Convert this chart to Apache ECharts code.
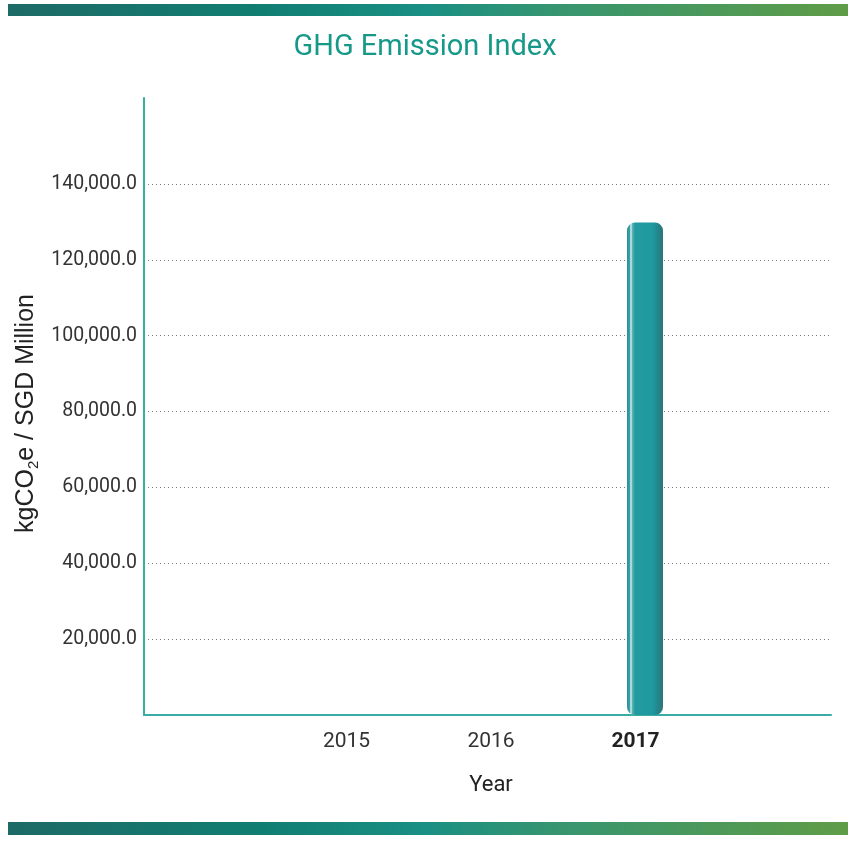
<!DOCTYPE html>
<html>
<head>
<meta charset="utf-8">
<title>GHG Emission Index</title>
<script src="https://cdn.jsdelivr.net/npm/echarts@6/dist/echarts.min.js"></script>
<style>
  html, body { margin: 0; padding: 0; background: #ffffff; }
  #chart { width: 850px; height: 842px; }
</style>
</head>
<body>
<div id="chart"></div>
<script>
// Reporting years and the emission index per year (kgCO2e / SGD Million)
const categories = ['2015', '2016', '2017'];
const emissionIndex = [null, null, 129800];
const highlightYear = '2017';

// Value axis ticks that carry a label and a dotted guide line
const yTickValues = [20000, 40000, 60000, 80000, 100000, 120000, 140000];
const yMax = 160000;
const yStep = 20000;

const chart = echarts.init(document.getElementById('chart'));

const textFont = "'Roboto', 'Liberation Sans', sans-serif";
const nameFont = "'Liberation Sans', Arial, sans-serif";
const axisTeal = '#3aaca2';

const brandGradient = new echarts.graphic.LinearGradient(0, 0, 1, 0, [
  { offset: 0, color: '#1d6a66' },
  { offset: 0.3, color: '#117e72' },
  { offset: 0.5, color: '#1a8f83' },
  { offset: 0.65, color: '#369570' },
  { offset: 1, color: '#5f9c47' }
]);

const barGradient = new echarts.graphic.LinearGradient(0, 0, 1, 0, [
  { offset: 0, color: '#2a8d93' },
  { offset: 0.07, color: '#3aa1a6' },
  { offset: 0.11, color: '#dcf0f1' },
  { offset: 0.15, color: '#5ab4b8' },
  { offset: 0.22, color: '#229aa0' },
  { offset: 0.7, color: '#1f9aa0' },
  { offset: 0.86, color: '#24868d' },
  { offset: 1, color: '#2b757b' }
]);

const fmtTick = v => yTickValues.indexOf(v) >= 0
  ? v.toLocaleString('en-US', { minimumFractionDigits: 1, maximumFractionDigits: 1 })
  : '';

const option = {
  backgroundColor: '#ffffff',
  animation: false,
  title: {
    text: 'GHG Emission Index',
    left: 'center',
    top: 28,
    padding: [5, 0, 5, 10],
    textStyle: { color: '#17998a', fontFamily: textFont, fontWeight: 'normal', fontSize: 29 }
  },
  graphic: [
    { type: 'rect', left: 8, top: 4, shape: { width: 840, height: 12 }, style: { fill: brandGradient } },
    { type: 'rect', left: 8, top: 822, shape: { width: 840, height: 13 }, style: { fill: brandGradient } }
  ],
  grid: [
    // frame: axis lines
    { left: 144, right: 19, top: 98, bottom: 127 },
    // value labels and dotted guides
    { left: 144, right: 19, top: 108, bottom: 127 },
    // year labels
    { left: 274.25, right: 142.25, top: 108, bottom: 127 },
    // bars
    { left: 283.75, right: 132.75, top: 108, bottom: 127 }
  ],
  xAxis: [
    {
      gridIndex: 0, type: 'value', min: 0, max: 1,
      axisLine: { show: true, lineStyle: { color: axisTeal, width: 2 } },
      axisTick: { show: false }, axisLabel: { show: false }, splitLine: { show: false }
    },
    { gridIndex: 1, type: 'category', data: categories, show: false },
    {
      gridIndex: 2, type: 'category', data: categories,
      axisLine: { show: false }, axisTick: { show: false },
      axisLabel: {
        margin: 16,
        formatter: v => v === highlightYear ? '{b|' + v + '}' : '{n|' + v + '}',
        rich: {
          n: { fontFamily: textFont, fontSize: 21, color: '#333333' },
          b: { fontFamily: textFont, fontSize: 21, color: '#222222', fontWeight: 'bold' }
        }
      },
      name: 'Year',
      nameLocation: 'middle',
      nameGap: 59,
      nameTextStyle: { fontFamily: textFont, fontSize: 22, color: '#222222' }
    },
    { gridIndex: 3, type: 'category', data: categories, show: false }
  ],
  yAxis: [
    {
      gridIndex: 0, type: 'value', min: 0, max: 1,
      axisLine: { show: true, lineStyle: { color: axisTeal, width: 2 } },
      axisTick: { show: false }, axisLabel: { show: false }, splitLine: { show: false },
      name: '{a|kgCO}{s|2}{a|e / SGD Million}',
      nameLocation: 'middle',
      nameRotate: 90,
      nameGap: 103,
      nameTextStyle: {
        padding: [0, 14, 0, 0],
        rich: {
          a: { fontFamily: nameFont, fontSize: 25, color: '#222222' },
          s: { fontFamily: nameFont, fontSize: 15, color: '#222222', verticalAlign: 'bottom', padding: [15, 0, 0, 0] }
        }
      }
    },
    {
      gridIndex: 1, type: 'value', min: 0, max: yMax, interval: yStep,
      axisLine: { show: false }, axisTick: { show: false },
      axisLabel: {
        margin: 7, formatter: fmtTick,
        fontFamily: textFont, fontSize: 19.5, color: '#333333'
      },
      splitLine: {
        show: true, showMinLine: false, showMaxLine: false,
        lineStyle: { color: '#7a7a7a', type: [1, 3], width: 1 }
      }
    },
    { gridIndex: 2, type: 'value', min: 0, max: yMax, interval: yStep, show: false, splitLine: { show: false } },
    { gridIndex: 3, type: 'value', min: 0, max: yMax, interval: yStep, show: false, splitLine: { show: false } }
  ],
  series: [
    {
      name: 'GHG Emission Index',
      type: 'bar',
      xAxisIndex: 3,
      yAxisIndex: 3,
      data: emissionIndex,
      barWidth: 36,
      itemStyle: { color: barGradient, borderRadius: [8, 8, 8, 8] },
      z: 1
    }
  ]
};

chart.setOption(option);
</script>
</body>
</html>
